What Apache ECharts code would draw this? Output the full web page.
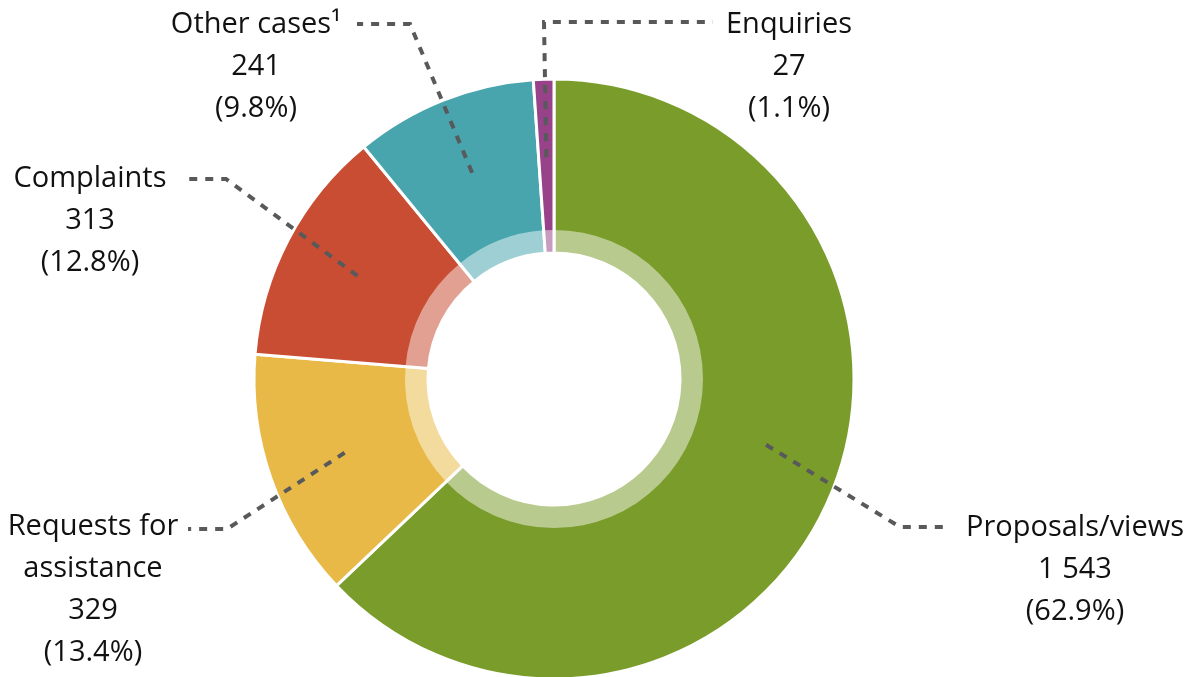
<!DOCTYPE html>
<html>
<head>
<meta charset="utf-8">
<script src="https://cdn.jsdelivr.net/npm/echarts@6/dist/echarts.min.js"></script>
<style>html,body{margin:0;padding:0;background:#fff}#chart{width:1198px;height:677px}</style>
</head>
<body>
<div id="chart"></div>
<script>
// ---- data ----
const categories = ['Proposals/views', 'Requests for assistance', 'Complaints', 'Other cases', 'Enquiries'];
const labelTitles = ['Proposals/views', 'Requests for\nassistance', 'Complaints', 'Other cases\u00b9', 'Enquiries'];
const values = [1543, 329, 313, 241, 27];
const percents = [62.9, 13.4, 12.8, 9.8, 1.1];

// ---- styles ----
const colors = ['#7a9c2a', '#e8b946', '#c84d33', '#48a5ae', '#984289'];
const RING_VEIL = 'rgba(255,255,255,0.47)';

// ---- layout (annotation geometry) ----
const CX = 554 / 1198, CY = 379 / 677;
const R_START = 222;
const leaders = [
  { text: [1075, 507], bend: [900, 527], end: [947, 527], shift: 6 },
  { text: [93, 506], bend: [227, 529], end: [188, 529], shift: 0 },
  { text: [90, 158], bend: [226, 179], end: [182, 179], shift: 0 },
  { text: [256, 4], bend: [410, 24], end: [357, 24], shift: 0 },
  { text: [789, 4], bend: [544, 22], end: [713, 22], shift: 0 }
];

const total = values.reduce((a, b) => a + b, 0);
const cumBefore = values.map((v, i) => values.slice(0, i).reduce((a, b) => a + b, 0));

function fmtNum(n) {
  return String(n).replace(/\B(?=(\d{3})+(?!\d))/g, ' ');
}

const chart = echarts.init(document.getElementById('chart'));
const outerData = categories.map((c, i) => ({ name: c, value: values[i], itemStyle: { color: colors[i] } }));
const veilData = categories.map((c, i) => ({ name: c, value: values[i] }));

chart.setOption({
  animation: false,
  series: [
    {
      type: 'pie',
      z: 1,
      center: [(CX * 100) + '%', (CY * 100) + '%'],
      radius: [126, 300],
      startAngle: 90,
      clockwise: true,
      silent: true,
      itemStyle: { borderColor: '#ffffff', borderWidth: 3 },
      label: { show: false },
      labelLine: { show: false },
      data: outerData
    },
    {
      type: 'pie',
      z: 3,
      center: [(CX * 100) + '%', (CY * 100) + '%'],
      radius: [125, 149],
      startAngle: 90,
      clockwise: true,
      silent: true,
      avoidLabelOverlap: false,
      itemStyle: { color: RING_VEIL, borderWidth: 0 },
      label: {
        show: true,
        position: 'outside',
        fontFamily: 'Open Sans',
        fontSize: 29,
        lineHeight: 42,
        color: '#111111',
        align: 'center',
        formatter: function (p) {
          const i = p.dataIndex;
          return labelTitles[i] + '\n' + fmtNum(values[i]) + '\n(' + percents[i].toFixed(1) + '%)';
        }
      },
      labelLine: {
        show: true,
        showAbove: true,
        smooth: false,
        lineStyle: { color: '#58595b', width: 4, type: [8, 8] }
      },
      labelLayout: function (p) {
        const i = p.dataIndex;
        const L = leaders[i];
        const cx = chart.getWidth() * CX, cy = chart.getHeight() * CY;
        const deg = 90 - (cumBefore[i] + values[i] / 2) / total * 360 + L.shift;
        const a = deg * Math.PI / 180;
        const sx = cx + R_START * Math.cos(a), sy = cy - R_START * Math.sin(a);
        return {
          x: L.text[0], y: L.text[1], align: 'center', verticalAlign: 'top',
          labelLinePoints: [[sx, sy], L.bend.slice(), L.end.slice()]
        };
      },
      data: veilData
    }
  ]
});
</script>
</body>
</html>
